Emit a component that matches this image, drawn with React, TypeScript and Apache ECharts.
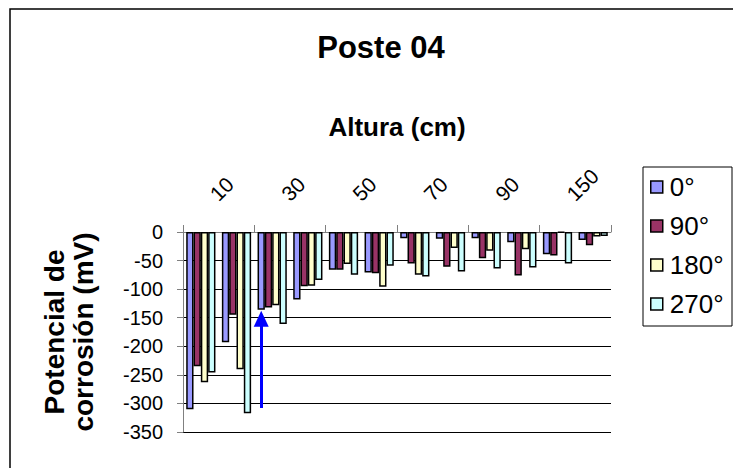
import React, { useEffect, useRef } from "react";
import * as echarts from "echarts";

const categories = ["10", "20", "30", "40", "50", "60", "70", "80", "90", "120", "150", "180"];
const seriesNames = ["0°", "90°", "180°", "270°"];
const s0 = [-310, -193, -136, -118, -66, -71, -11, -12, -11, -18, -39, -14];
const s90 = [-235, -145, -132, -95, -66, -72, -55, -61, -46, -76, -41, -23];
const s180 = [-263, -240, -128, -94, -56, -96, -75, -28, -33, -30, -1, -8];
const s270 = [-246, -317, -161, -84, -75, -59, -78, -69, -64, -62, -55, -7];
const seriesColors = ["#9999FF", "#993366", "#FFFFCC", "#CCFFFF"];
const arrowCategory = "30";
const arrowFrom = -308;
const arrowTo = -152;

const FONT = "Liberation Sans, Arial, sans-serif";

export default function App() {
  const ref = useRef<HTMLDivElement>(null);
  useEffect(() => {
    if (!ref.current) return;
    const chart = echarts.init(ref.current, null, { renderer: "svg" });
    const values = [s0, s90, s180, s270];
    chart.setOption({
      animation: false,
      backgroundColor: "#ffffff",
      textStyle: { fontFamily: FONT, color: "#000" },
      title: {
        text: "Poste 04",
        left: 376,
        top: 27,
        textAlign: "center",
        textStyle: { fontFamily: FONT, fontSize: 31, fontWeight: "bold", color: "#000" },
      },
      grid: { left: 183, top: 232, width: 428, height: 200, containLabel: false },
      legend: {
        data: seriesNames,
        orient: "vertical",
        left: 650,
        top: 174,
        padding: 0,
        itemWidth: 12,
        itemHeight: 12,
        itemGap: 13,
        icon: "rect",
        itemStyle: { borderColor: "#000", borderWidth: 1.5 },
        textStyle: { fontFamily: FONT, fontSize: 26, color: "#000", lineHeight: 26, padding: [0, 0, 0, 2] },
      },
      xAxis: {
        type: "category",
        data: categories,
        position: "top",
        name: "Altura (cm)",
        nameLocation: "middle",
        nameGap: 92,
        nameTextStyle: { fontFamily: FONT, fontSize: 26, fontWeight: "bold", color: "#000" },
        axisLine: { show: true, lineStyle: { color: "#808080", width: 1 } },
        axisTick: { show: true, length: 7, lineStyle: { color: "#808080" } },
        axisLabel: {
          interval: 1,
          rotate: 45,
          fontSize: 21,
          color: "#000",
          margin: 22,
          padding: [0, 0, 0, 18],
          fontFamily: FONT,
        },
        splitLine: { show: false },
      },
      yAxis: {
        type: "value",
        min: -350,
        max: 0,
        interval: 50,
        name: "Potencial de\ncorrosión (mV)",
        nameLocation: "middle",
        nameRotate: 90,
        nameGap: 85,
        nameTextStyle: { fontFamily: FONT, fontSize: 28, fontWeight: "bold", color: "#000", lineHeight: 29 },
        axisLine: { show: true, lineStyle: { color: "#808080", width: 1 } },
        axisTick: { show: true, length: 6, lineStyle: { color: "#808080" } },
        axisLabel: { fontSize: 20, color: "#000", margin: 20, fontFamily: FONT },
        splitLine: { show: true, lineStyle: { color: "#000", width: 1 } },
      },
      series: seriesNames.map((name, i) => ({
        name,
        type: "bar",
        data: values[i],
        barGap: "0%",
        barCategoryGap: "18%",
        itemStyle: { color: seriesColors[i], borderColor: "#000", borderWidth: 1.5 },
        ...(i === 0
          ? {
              markLine: {
                silent: true,
                symbol: ["none", "triangle"],
                symbolSize: [15, 16],
                label: { show: false },
                lineStyle: { color: "#0000FF", width: 3, type: "solid" },
                data: [[{ coord: [arrowCategory, arrowFrom] }, { coord: [arrowCategory, arrowTo] }]],
              },
            }
          : {}),
      })),
      graphic: [
        {
          type: "rect",
          shape: { x: 10, y: 9, width: 760, height: 480 },
          style: { fill: "none", stroke: "#000", lineWidth: 1.5 },
          silent: true,
        },
        {
          type: "rect",
          shape: { x: 643, y: 167, width: 89, height: 159 },
          style: { fill: "none", stroke: "#000", lineWidth: 1 },
          silent: true,
        },
      ],
    });
    return () => chart.dispose();
  }, []);
  return (
    <div
      ref={ref}
      style={{ position: "fixed", left: 0, top: 0, width: 733, height: 468, background: "#fff" }}
    />
  );
}
